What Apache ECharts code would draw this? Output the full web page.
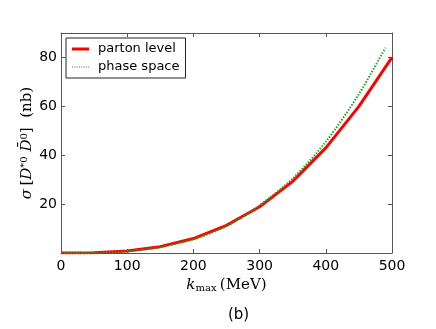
<!DOCTYPE html>
<html><head><meta charset="utf-8">
<script src="https://cdn.jsdelivr.net/npm/echarts@6/dist/echarts.min.js"></script>
<style>html,body{margin:0;padding:0;background:#fff}#c{width:436px;height:329px}</style>
</head><body><div id="c"></div>
<script>
const partonK = [0, 50, 100, 150, 200, 250, 300, 350, 400, 450, 500];
const partonSigma = [0, 0.1, 0.8, 2.6, 5.9, 11.3, 18.9, 29.3, 43.0, 60.0, 80.0];
const phaseK = [0, 50, 100, 150, 200, 250, 300, 350, 400, 450, 490];
const phaseSigma = [0, 0.1, 0.7, 2.4, 5.6, 11.0, 19.5, 30.5, 45.5, 65.0, 84.0];
const xTicks = [0, 100, 200, 300, 400, 500];
const yTicks = [20, 40, 60, 80];
const seriesNames = ['parton level', 'phase space'];

const chart = echarts.init(document.getElementById('c'), null, {renderer: 'canvas'});
const axisCol = '#555';
const grid = {left: 61, right: 44, top: 33, bottom: 76};
const tick = {show: true, inside: true, length: 4, lineStyle: {color: axisCol}};
const line = {show: true, onZero: false, lineStyle: {color: axisCol, width: 1}};
let dots = '';
for (let i = 0; i < 8; i++) dots += 'M' + (i * 2) + ',0h1v1h-1z';
chart.setOption({
  animation: false,
  grid: grid,
  legend: {
    data: [{name: seriesNames[0], icon: 'rect'}, {name: seriesNames[1], icon: 'path://' + dots}],
    orient: 'vertical', left: 66, top: 38, padding: [4, 6, 4, 6], itemGap: 4,
    itemWidth: 17, itemHeight: 3,
    borderColor: '#222', borderWidth: 1, backgroundColor: '#fff', borderRadius: 0,
    textStyle: {fontFamily: 'DejaVu Sans', fontSize: 13, color: '#000', padding: [0, 0, 0, 4], lineHeight: 14}
  },
  xAxis: [{
    type: 'value', min: 0, max: 500, interval: 100,
    axisLine: line, axisTick: tick,
    axisLabel: {fontFamily: 'DejaVu Sans', fontSize: 14, color: '#000', margin: 6,
      formatter: v => xTicks.includes(v) ? String(v) : ''},
    splitLine: {show: false},
    name: '{k|k}{s|max} {t|(MeV)}', nameLocation: 'middle', nameGap: 19,
    nameTextStyle: {rich: {
      k: {fontFamily: 'DejaVu Serif', fontStyle: 'italic', fontSize: 15, color: '#000'},
      s: {fontFamily: 'DejaVu Serif', fontSize: 10, color: '#000', verticalAlign: 'bottom', padding: [6, 0, 0, 0]},
      t: {fontFamily: 'DejaVu Serif', fontSize: 15, color: '#000'}
    }}
  }, {
    type: 'value', min: 0, max: 500, interval: 100, position: 'top',
    axisLine: line, axisTick: tick,
    axisLabel: {show: false}, splitLine: {show: false}
  }],
  yAxis: [{
    type: 'value', min: 0, max: 90, interval: 20,
    axisLine: line, axisTick: tick,
    axisLabel: {fontFamily: 'DejaVu Sans', fontSize: 14, color: '#000', margin: 4,
      formatter: v => yTicks.includes(v) ? String(v) : ''},
    splitLine: {show: false},
    name: '{i|σ} {a|[}{i|D}{b|*0}{i| D̄}{b|0}{a|]  (nb)}', nameLocation: 'middle', nameGap: 26, nameRotate: 90,
    nameMoveOverlap: false,
    nameTextStyle: {rich: {
      i: {fontFamily: 'DejaVu Serif', fontStyle: 'italic', fontSize: 15, color: '#000'},
      a: {fontFamily: 'DejaVu Serif', fontSize: 15, color: '#000'},
      b: {fontFamily: 'DejaVu Serif', fontSize: 10, color: '#000', verticalAlign: 'top', padding: [0, 0, 6, 0]}
    }}
  }, {
    type: 'value', min: 0, max: 90, interval: 20, position: 'right',
    axisLine: line, axisTick: tick,
    axisLabel: {show: false}, splitLine: {show: false}
  }],
  series: [{
    name: seriesNames[0], type: 'line', symbol: 'none', color: '#ff0000',
    lineStyle: {color: '#ff0000', width: 3},
    data: partonK.map((k, i) => [k, partonSigma[i]]), z: 3
  }, {
    name: seriesNames[1], type: 'line', symbol: 'none', color: '#22a022', smooth: 0.3,
    lineStyle: {color: '#22a022', width: 2, type: [1.5, 1.5]},
    data: phaseK.map((k, i) => [k, phaseSigma[i]]), z: 4
  }],
  graphic: [{
    type: 'text', left: 228, top: 308,
    style: {text: '(b)', fontFamily: 'DejaVu Sans', fontSize: 15, fill: '#000'}
  }]
});
</script></body></html>
